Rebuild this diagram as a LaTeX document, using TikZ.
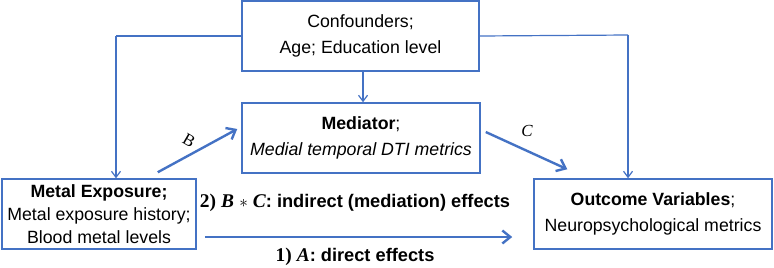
\documentclass[tikz,border=0pt]{standalone}
\usepackage{fontspec}
\setmainfont{Liberation Sans}
\newfontfamily\serifmath{Liberation Serif}
\usetikzlibrary{arrows.meta,calc}
\definecolor{mb}{HTML}{4472C4}
\begin{document}
\begin{tikzpicture}[x=1bp,y=-1bp,
  box/.style={draw=mb, line width=1.5bp, inner sep=0pt, align=center, minimum height=70bp},
  txt/.style={font=\fontsize{17.8}{26}\selectfont},
  efftxt/.style={font=\fontsize{18.3}{26}\selectfont},
  thinarrow/.style={draw=mb, line width=1.2bp, -{Straight Barb[length=6bp,width=9bp,line width=1.2bp]}},
  thinline/.style={draw=mb, line width=1.2bp},
  thickarrow/.style={draw=mb, line width=2.4bp, -{Straight Barb[length=8bp,width=13bp,line width=2.4bp]}}
  ]
\useasboundingbox (0,0) rectangle (774,267);
\node[box,txt,minimum width=237bp] (conf) at (360.5,36) {Confounders;\\Age; Education level};
\node[box,txt,minimum width=238bp] (med) at (361,138) {\textbf{Mediator};\\\textit{Medial temporal DTI metrics}};
\node[box,minimum width=194bp,font=\fontsize{17.8}{23}\selectfont] (metal) at (99,214) {\textbf{Metal Exposure;}\\Metal exposure history;\\Blood metal levels};
\node[box,txt,minimum width=238bp] (outc) at (653,214) {\textbf{Outcome Variables};\\Neuropsychological metrics};
% confounder links
\coordinate (L) at (116,36);
\coordinate (R) at (628,35);
\draw[thinline] (conf.west) -- (L);
\draw[thinarrow] (L) -- (L |- metal.north);
\draw[thinline] (conf.east) -- (R);
\draw[thinarrow] (R) -- (R |- outc.north);
\draw[thinarrow] ([xshift=2.5bp]conf.south) -- ([xshift=2bp]med.north);
% paths
\draw[thickarrow] ([xshift=-39bp,yshift=6bp]metal.north east) -- ([xshift=-4bp,yshift=9bp]med.west);
\draw[thickarrow] ([xshift=5bp,yshift=6bp]med.east) -- ([xshift=34bp,yshift=9bp]outc.north west);
\draw[thickarrow] ([xshift=8bp,yshift=-23bp]metal.east) -- ([xshift=-21bp,yshift=-23bp]outc.west);
% labels
\node[font=\serifmath\fontsize{17}{20}\selectfont, rotate=-30] (lb) at (189,141) {B};
\node[font=\serifmath\itshape\fontsize{17}{20}\selectfont] (lc) at (527,131) {C};
\node[efftxt] (ind) at (355,203) {\textbf{{\serifmath\fontsize{19.5}{26}\selectfont 2)} {\serifmath\itshape\fontsize{19.5}{26}\selectfont B} {\serifmath$*$} {\serifmath\itshape\fontsize{19.5}{26}\selectfont C}: indirect (mediation) effects}};
\node[efftxt] (dir) at (355,257) {\textbf{{\serifmath\fontsize{19.5}{26}\selectfont 1)} {\serifmath\itshape\fontsize{19.5}{26}\selectfont A}: direct effects}};
\end{tikzpicture}
\end{document}
